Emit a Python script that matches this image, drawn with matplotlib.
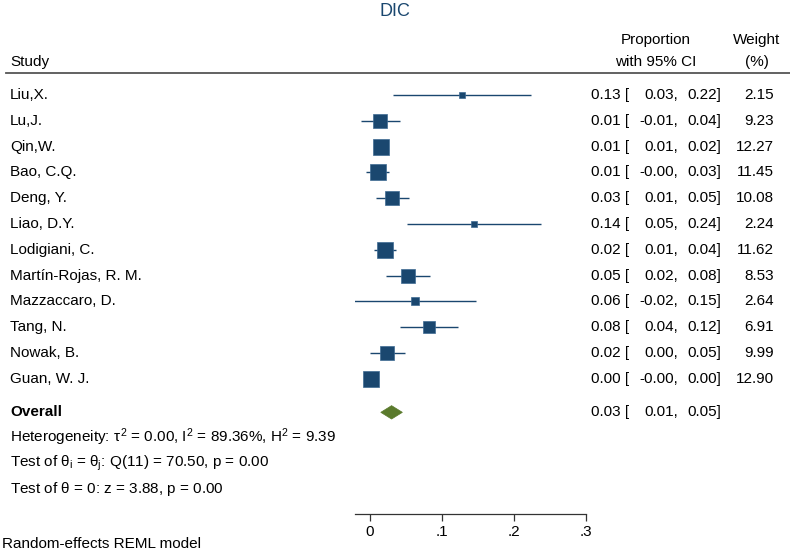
import matplotlib
matplotlib.use("Agg")
import matplotlib.pyplot as plt
import matplotlib.transforms as mtransforms
from matplotlib.lines import Line2D
from matplotlib.patches import Polygon
import numpy as np

plt.rcParams['font.family'] = ['Liberation Sans', 'DejaVu Sans']
plt.rcParams['mathtext.fontset'] = 'custom'
plt.rcParams['mathtext.rm'] = 'Liberation Sans'
plt.rcParams['mathtext.it'] = 'Liberation Sans'

# data
studies = ["Liu,X.", "Lu,J.", "Qin,W.", "Bao, C.Q.", "Deng, Y.", "Liao, D.Y.",
           "Lodigiani, C.", "Martín-Rojas, R. M.", "Mazzaccaro, D.", "Tang, N.",
           "Nowak, B.", "Guan, W. J."]
est = [0.128, 0.014, 0.015, 0.011, 0.031, 0.144, 0.021, 0.053, 0.063, 0.082, 0.024, 0.001]
lo = [0.032, -0.013, 0.008, -0.005, 0.008, 0.051, 0.006, 0.022, -0.022, 0.042, 0.000, -0.001]
hi = [0.223, 0.041, 0.022, 0.027, 0.054, 0.238, 0.036, 0.084, 0.147, 0.122, 0.048, 0.003]
weights = [2.15, 9.23, 12.27, 11.45, 10.08, 2.24, 11.62, 8.53, 2.64, 6.91, 9.99, 12.90]
est_txt = ["0.13", "0.01", "0.01", "0.01", "0.03", "0.14", "0.02", "0.05", "0.06", "0.08", "0.02", "0.00"]
lo_txt = ["0.03", "-0.01", "0.01", "-0.00", "0.01", "0.05", "0.01", "0.02", "-0.02", "0.04", "0.00", "-0.00"]
hi_txt = ["0.22", "0.04", "0.02", "0.03", "0.05", "0.24", "0.04", "0.08", "0.15", "0.12", "0.05", "0.00"]

overall_est, overall_lo, overall_hi = 0.030, 0.015, 0.045
overall_txt = ["0.03", "0.01", "0.05"]
xticks = [0, 0.1, 0.2, 0.3]
xticklabels = ["0", ".1", ".2", ".3"]

blue = "#1a476f"
green = "#5a7a2c"
W, H = 790, 552

fig = plt.figure(figsize=(W / 100, H / 100), dpi=100)
# plot region in pixels: x 355..586, y 80..514
ax = fig.add_axes([355 / W, 1 - 514 / H, (586 - 355) / W, (514 - 80) / H])
ax.set_xlim(-0.0208, 0.3)
row_h = 25.8
ax.set_ylim((514 - 95) / row_h, (80 - 95) / row_h)
for s in ["top", "left", "right"]:
    ax.spines[s].set_visible(False)
ax.spines["bottom"].set_color("#333333")
ax.spines["bottom"].set_linewidth(0.9)
ax.set_yticks([])
ax.set_xticks(xticks)
ax.set_xticklabels(xticklabels, fontsize=11)
ax.tick_params(axis="x", length=5, width=0.9, color="#333333", pad=3)

rows = np.arange(len(studies))
for i in rows:
    ax.plot([lo[i], hi[i]], [i, i], color=blue, lw=1.0, solid_capstyle="butt", zorder=2)
    ms = 12.0 * np.sqrt(weights[i] / 12.90)
    ax.plot(est[i], i, marker="s", ms=ms, color=blue, mec="#3d6a93", mew=0.5, zorder=3)

ov_y = 12.3
diamond = Polygon([[overall_lo, ov_y], [overall_est, ov_y - 0.26],
                   [overall_hi, ov_y], [overall_est, ov_y + 0.26]],
                  closed=True, facecolor=green, edgecolor=green, lw=0.5)
ax.add_patch(diamond)

tr = mtransforms.blended_transform_factory(fig.transFigure, ax.transData)
fs = 11
x_name, x_est, x_lo, x_hi, x_w = 10, 629, 678, 721, 774
for i in rows:
    ax.text(x_name / W, i, studies[i], transform=tr, fontsize=fs, va="center", ha="left", clip_on=False)
    ax.text(x_est / W, i, est_txt[i] + " [", transform=tr, fontsize=fs, va="center", ha="right", clip_on=False)
    ax.text(x_lo / W, i, lo_txt[i] + ",", transform=tr, fontsize=fs, va="center", ha="right", clip_on=False)
    ax.text(x_hi / W, i, hi_txt[i] + "]", transform=tr, fontsize=fs, va="center", ha="right", clip_on=False)
    ax.text(x_w / W, i, f"{weights[i]:.2f}", transform=tr, fontsize=fs, va="center", ha="right", clip_on=False)

ax.text(x_name / W, ov_y, "Overall", transform=tr, fontsize=fs, fontweight="bold", va="center", ha="left", clip_on=False)
ax.text(x_est / W, ov_y, overall_txt[0] + " [", transform=tr, fontsize=fs, va="center", ha="right", clip_on=False)
ax.text(x_lo / W, ov_y, overall_txt[1] + ",", transform=tr, fontsize=fs, va="center", ha="right", clip_on=False)
ax.text(x_hi / W, ov_y, overall_txt[2] + "]", transform=tr, fontsize=fs, va="center", ha="right", clip_on=False)

ax.text(x_name / W, ov_y + 0.97, r"Heterogeneity: $\tau^2$ = 0.00, I$^2$ = 89.36%, H$^2$ = 9.39",
        transform=tr, fontsize=fs, va="center", ha="left", clip_on=False)
ax.text(x_name / W, ov_y + 1.97, r"Test of $\theta_\mathrm{i}$ = $\theta_\mathrm{j}$: Q(11) = 70.50, p = 0.00",
        transform=tr, fontsize=fs, va="center", ha="left", clip_on=False)
ax.text(x_name / W, ov_y + 2.97, r"Test of $\theta$ = 0: z = 3.88, p = 0.00",
        transform=tr, fontsize=fs, va="center", ha="left", clip_on=False)

# headers
fig.text(395 / W, 1 - 12 / H, "DIC", color=blue, fontsize=13, ha="center", va="center")
fig.text(x_name / W, 1 - 62 / H, "Study", fontsize=fs, ha="left", va="center")
fig.text(656 / W, 1 - 40 / H, "Proportion", fontsize=fs, ha="center", va="center")
fig.text(656 / W, 1 - 62 / H, "with 95% CI", fontsize=fs, ha="center", va="center")
fig.text(757 / W, 1 - 40 / H, "Weight", fontsize=fs, ha="center", va="center")
fig.text(757 / W, 1 - 62 / H, "(%)", fontsize=fs, ha="center", va="center")
fig.add_artist(Line2D([6 / W, 1], [1 - 73 / H, 1 - 73 / H], transform=fig.transFigure,
                      color="#555555", lw=1.3))

fig.text(2 / W, 1 - 544 / H, "Random-effects REML model", fontsize=fs, ha="left", va="center")

fig.savefig("out.png", dpi=100)
